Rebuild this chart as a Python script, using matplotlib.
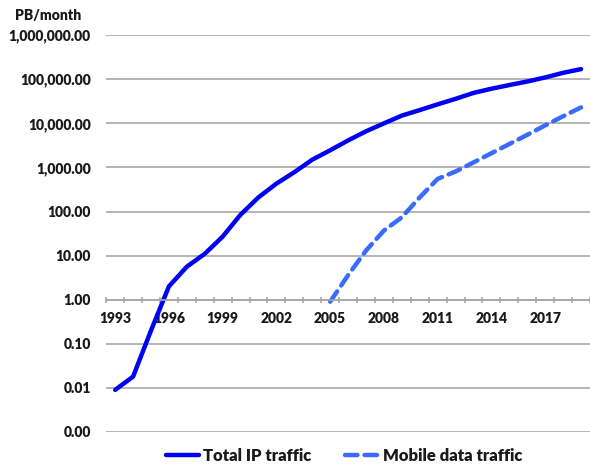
import matplotlib.pyplot as plt
import matplotlib.ticker as mticker
import numpy as np

plt.rcParams['font.family'] = ['Lato', 'DejaVu Sans']

years = list(range(1993, 2020))
total_ip = [0.009, 0.018, 0.2, 2.0, 5.6, 11, 27, 85, 210, 430, 780,
            1500, 2450, 4100, 6600, 10000, 15000, 20000, 27000, 36000,
            49000, 61000, 74000, 89000, 110000, 140000, 170000]
mobile_years = list(range(2005, 2020))
mobile = [0.9, 3.6, 13, 37, 74, 210, 550, 810, 1300, 2100, 3400,
          5500, 9000, 14500, 23000]
label_years = list(range(1993, 2018, 3))
y_ticks = [0.001, 0.01, 0.1, 1, 10, 100, 1000, 10000, 100000, 1000000]

fig = plt.figure(figsize=(5.9, 4.69), dpi=100)
ax = fig.add_axes([0.18, 0.079, 0.82, 0.846])

ax.plot(years, total_ip, color="#0000f5", lw=3.2, solid_capstyle="round",
        label="Total IP traffic")
ax.plot(mobile_years, mobile, color="#3a6bff", lw=3.2, linestyle=(0, (2.8, 1.6)),
        dash_capstyle="round", label="Mobile data traffic")

ax.set_yscale("log")
ax.set_ylim(0.001, 1000000)
ax.set_xlim(1992.5, 2019.5)
ax.set_yticks(y_ticks)
ax.yaxis.set_minor_locator(mticker.NullLocator())
ax.yaxis.set_major_formatter(mticker.FuncFormatter(lambda v, p: f"{v:,.2f}"))
ax.grid(axis="y", color="#a8a8a8", lw=1.2)
ax.set_axisbelow(True)

for s in ["top", "right", "left"]:
    ax.spines[s].set_visible(False)
ax.spines["bottom"].set_position(("data", 1))
ax.spines["bottom"].set_color("#a8a8a8")
ax.spines["bottom"].set_linewidth(1.2)

ax.set_xticks(label_years)
ax.set_xticks(np.arange(1992.5, 2020, 1), minor=True)
ax.tick_params(axis="x", which="major", length=0, pad=9)
ax.tick_params(axis="x", which="minor", length=4, color="#a8a8a8", width=1.2, direction="inout")
ax.tick_params(axis="y", length=0, pad=11)
for lab in ax.get_xticklabels() + ax.get_yticklabels():
    lab.set_fontweight("heavy")
    lab.set_fontsize(10)
    lab.set_color("#1a1a1a")

fig.text(0.026, 0.958, "PB/month", fontsize=10, fontweight="heavy", color="#1a1a1a")

leg = fig.legend(loc="lower center", bbox_to_anchor=(0.583, -0.022), ncol=2, frameon=False,
                 prop={"weight": "heavy", "size": 12}, handlelength=2.0, handletextpad=0.25,
                 columnspacing=2.0)
for t in leg.get_texts():
    t.set_color("#1a1a1a")

fig.savefig("out.png", dpi=100)
